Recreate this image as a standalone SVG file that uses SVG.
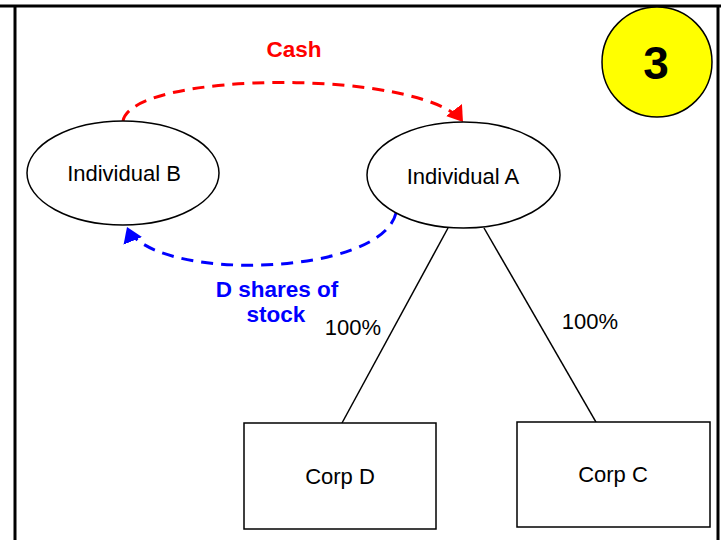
<svg xmlns="http://www.w3.org/2000/svg" width="721" height="540" viewBox="0 0 721 540">
<style>
text{font-family:"Liberation Sans",Arial,sans-serif;text-anchor:middle}
.lbl{font-size:22px;fill:#000}
.bl{font-size:22.5px;font-weight:bold}
.node{fill:#fff;stroke:#000;stroke-width:1.5}
.frame{stroke:#000;stroke-width:3;fill:none}
.red{fill:none;stroke:#ff0000;stroke-width:3;stroke-dasharray:12 8}
.blue{fill:none;stroke:#0000ff;stroke-width:3;stroke-dasharray:12 8}
.own{stroke:#000;stroke-width:1.5;fill:none}
</style>
<defs>
<marker id="ar" markerUnits="userSpaceOnUse" markerWidth="20" markerHeight="22" refX="15" refY="10" orient="auto">
<path d="M0,0 L15,10 L0,20 Z" fill="#ff0000"/>
</marker>
<marker id="ab" markerUnits="userSpaceOnUse" markerWidth="20" markerHeight="22" refX="15" refY="10" orient="auto">
<path d="M0,0 L15,10 L0,20 Z" fill="#0000ff"/>
</marker>
</defs>
<rect width="721" height="540" fill="#fff"/>
<g id="frame">
<line class="frame" x1="0" y1="6" x2="721" y2="6"/>
<line class="frame" x1="15" y1="6" x2="15" y2="540"/>
<line class="frame" x1="718" y1="6" x2="718" y2="540"/>
</g>
<g id="badge">
<ellipse cx="657" cy="62" rx="55" ry="55" fill="#ffff00" stroke="#000" stroke-width="1.5"/>
<text x="656" y="79" style="font-size:46px;font-weight:bold">3</text>
</g>
<g id="connectors">
<path class="red" d="M123,121 C133,70 423,69 463,122" marker-end="url(#ar)"/>
<path class="blue" d="M396,213 C380,278 150,282 127,227" marker-end="url(#ab)"/>
<line class="own" x1="448" y1="228" x2="342" y2="423"/>
<line class="own" x1="484" y1="228" x2="596" y2="422"/>
<text class="bl" x="294" y="57" fill="#ff0000">Cash</text>
<text class="bl" x="277" y="297" fill="#0000ff">D shares of</text>
<text class="bl" x="276" y="322" fill="#0000ff">stock</text>
<text class="lbl" x="353" y="335">100%</text>
<text class="lbl" x="590" y="329">100%</text>
</g>
<g id="individual-b">
<ellipse class="node" cx="123" cy="173" rx="96" ry="52"/>
<text class="lbl" x="124" y="181">Individual B</text>
</g>
<g id="individual-a">
<ellipse class="node" cx="463.5" cy="175" rx="96.5" ry="53"/>
<text class="lbl" x="463" y="184">Individual A</text>
</g>
<g id="corp-d">
<rect class="node" x="244" y="423" width="192" height="106"/>
<text class="lbl" x="340" y="484">Corp D</text>
</g>
<g id="corp-c">
<rect class="node" x="517" y="422" width="193" height="105"/>
<text class="lbl" x="613" y="482">Corp C</text>
</g>
</svg>
